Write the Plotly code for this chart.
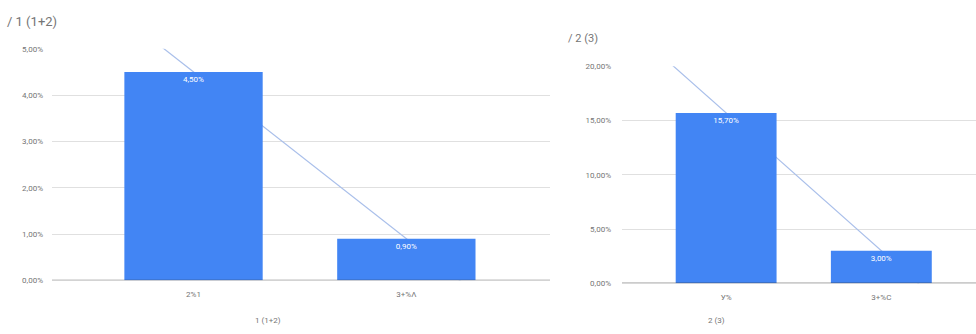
import numpy as np
import plotly.graph_objects as go

# Chart 1 data
cats_1 = ["2%1", "3+%Λ"]
vals_1 = [4.50, 0.90]
yticks_1 = [0, 1, 2, 3, 4, 5]
title_1 = "/ 1 (1+2)"
xtitle_1 = "1 (1+2)"

# Chart 2 data
cats_2 = ["У%", "3+%C"]
vals_2 = [15.70, 3.00]
yticks_2 = [0, 5, 10, 15, 20]
title_2 = "/ 2 (3)"
xtitle_2 = "2 (3)"

BAR = "#4285f4"
TREND = "#a9bfea"
GRID = "#e0e0e0"
TXT = "#757575"
FONT = "Roboto, Arial, sans-serif"


def pct(v):
    return f"{v:.2f}%".replace(".", ",")


def trend(vals, lo=-0.8, hi=1.8):
    xs = np.arange(len(vals))
    k, b = np.polyfit(xs, vals, 1)
    return lo, k * lo + b, hi, k * hi + b


fig = go.Figure()

for i, (cats, vals) in enumerate([(cats_1, vals_1), (cats_2, vals_2)], start=1):
    xa = "x" if i == 1 else f"x{i}"
    ya = "y" if i == 1 else f"y{i}"
    fig.add_trace(go.Bar(x=list(range(len(cats))), y=vals, xaxis=xa, yaxis=ya,
                         marker=dict(color=BAR, line=dict(width=0)),
                         width=0.65, text=[pct(v) for v in vals],
                         textposition="inside", insidetextanchor="end",
                         textangle=0, constraintext="none",
                         textfont=dict(color="white", size=8, family=FONT),
                         hoverinfo="skip", showlegend=False))
    # linear trendline, drawn between the gridlines and the bars
    x0, y0, x1, y1 = trend(vals)
    fig.add_shape(type="line", xref=xa, yref=ya, x0=x0, y0=y0, x1=x1, y1=y1,
                  layer="between", line=dict(color=TREND, width=1.2))

axis_common = dict(showline=False, zeroline=False, ticks="", fixedrange=True)

fig.update_layout(
    width=976, height=334,
    margin=dict(l=0, r=0, t=0, b=0),
    paper_bgcolor="white", plot_bgcolor="white",
    font=dict(family=FONT, color=TXT, size=8),
    xaxis=dict(domain=[52 / 976, 550 / 976], range=[-0.665, 1.675],
               tickvals=list(range(len(cats_1))), ticktext=cats_1,
               ticklabelstandoff=8, showgrid=False, anchor="y", **axis_common),
    yaxis=dict(domain=[1 - 284 / 334, 1 - 46 / 334], range=[0, 5],
               tickvals=yticks_1, ticktext=[pct(t) for t in yticks_1],
               ticklabelstandoff=8, showgrid=True, gridcolor=GRID, anchor="x",
               **axis_common),
    xaxis2=dict(domain=[622 / 976, 1.0], range=[-0.671, 1.61],
                tickvals=list(range(len(cats_2))), ticktext=cats_2,
                ticklabelstandoff=8, showgrid=False, anchor="y2", **axis_common),
    yaxis2=dict(domain=[1 - 287 / 334, 1 - 64 / 334], range=[0, 20],
                tickvals=yticks_2, ticktext=[pct(t) for t in yticks_2],
                ticklabelstandoff=10, showgrid=True, gridcolor=GRID, anchor="x2",
                **axis_common),
)

# baseline at zero for each chart
for xr, yr in [("x", "y"), ("x2", "y2")]:
    fig.add_shape(type="line", xref=f"{xr} domain", yref=yr, x0=0, x1=1, y0=0, y1=0,
                  line=dict(color="#333333", width=1))

fig.add_annotation(text=title_1, xref="paper", yref="paper", x=5 / 976, y=1 - 18 / 334,
                   xanchor="left", yanchor="middle", showarrow=False,
                   font=dict(size=13, color=TXT, family=FONT))
fig.add_annotation(text=title_2, xref="paper", yref="paper", x=566 / 976, y=1 - 35 / 334,
                   xanchor="left", yanchor="middle", showarrow=False,
                   font=dict(size=11, color=TXT, family=FONT))
fig.add_annotation(text=xtitle_1, xref="paper", yref="paper", x=268 / 976, y=1 - 325 / 334,
                   xanchor="center", yanchor="middle", showarrow=False,
                   font=dict(size=8, color=TXT, family=FONT))
fig.add_annotation(text=xtitle_2, xref="paper", yref="paper", x=716 / 976, y=1 - 325 / 334,
                   xanchor="center", yanchor="middle", showarrow=False,
                   font=dict(size=8, color=TXT, family=FONT))

fig.write_html("out.html")
